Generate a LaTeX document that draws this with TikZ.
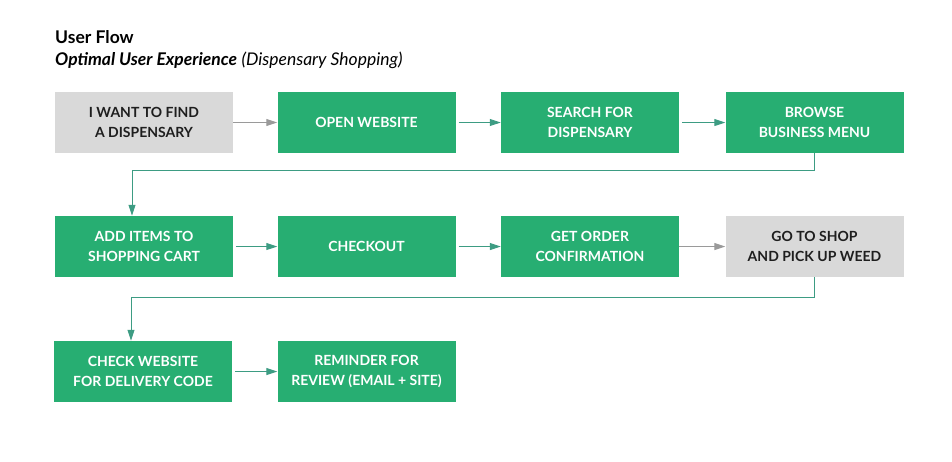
\documentclass[tikz,border=0pt]{standalone}
\usepackage{fontspec}
\setmainfont{Lato}
\usetikzlibrary{positioning, arrows.meta, calc}
\definecolor{bgGreen}{HTML}{27AE72}
\definecolor{bgGray}{HTML}{D9D9D9}
\definecolor{lineGreen}{HTML}{3D9C83}
\definecolor{lineGray}{HTML}{9A9A9A}
\definecolor{textDark}{HTML}{1E1E1E}

\begin{document}
\begin{tikzpicture}[
    x=1pt, y=-1pt,
    font=\fontsize{14}{19.5}\selectfont\bfseries,
    >={Triangle[length=11pt, width=7pt]},
    box/.style={
        minimum width=178pt, minimum height=61pt, align=center,
        inner sep=0pt
    },
    stepBox/.style={box, fill=bgGreen, text=white},
    userBox/.style={box, fill=bgGray, text=textDark},
    flow/.style={->, line width=1pt, draw=lineGreen, shorten <=3pt},
    flowGray/.style={->, line width=1pt, draw=lineGray}
]
\useasboundingbox (0,0) rectangle (952,461);

\node[anchor=base west, inner sep=0pt, font=\fontsize{17.5}{20}\selectfont\bfseries] (title) at (55,43) {User Flow};
\node[anchor=base west, inner sep=0pt, font=\fontsize{17.5}{20}\selectfont] (subtitle) at (55,65) {\textbf{\itshape Optimal User Experience} \itshape(Dispensary Shopping)};

% row 1
\node[userBox] (find) at (144,122.5) {I WANT TO FIND\\A DISPENSARY};
\node[stepBox] (open) at (366.5,122.5) {OPEN WEBSITE};
\node[stepBox] (search) at (590,122.5) {SEARCH FOR\\DISPENSARY};
\node[stepBox] (browse) at (814.5,122.5) {BROWSE\\BUSINESS MENU};

% row 2
\node[stepBox] (cart) at (144,246.5) {ADD ITEMS TO\\SHOPPING CART};
\node[stepBox] (checkout) at (366.5,246.5) {CHECKOUT};
\node[stepBox] (confirm) at (590,246.5) {GET ORDER\\CONFIRMATION};
\node[userBox] (pickup) at (814.5,246.5) {GO TO SHOP\\AND PICK UP WEED};

% row 3
\node[stepBox] (code) at (143,371.5) {CHECK WEBSITE\\FOR DELIVERY CODE};
\node[stepBox] (review) at (366.5,371.5) {REMINDER FOR\\REVIEW (EMAIL + SITE)};

\draw[flowGray] (find) -- (open);
\draw[flow] (open) -- (search);
\draw[flow] (search) -- (browse);
\draw[line width=1pt, draw=lineGreen] (browse.south) -- ++(0,17) coordinate (turnA);
\draw[flow, shorten <=0pt] (turnA) -| ([xshift=-12pt]cart.north);

\draw[flow] (cart) -- (checkout);
\draw[flow] (checkout) -- (confirm);
\draw[flowGray] (confirm) -- (pickup);
\draw[line width=1pt, draw=lineGreen] (pickup.south) -- ++(0,20) coordinate (turnB);
\draw[flow, shorten <=0pt] (turnB) -| ([xshift=-12pt]code.north);

\draw[flow] (code) -- (review);

\end{tikzpicture}
\end{document}
